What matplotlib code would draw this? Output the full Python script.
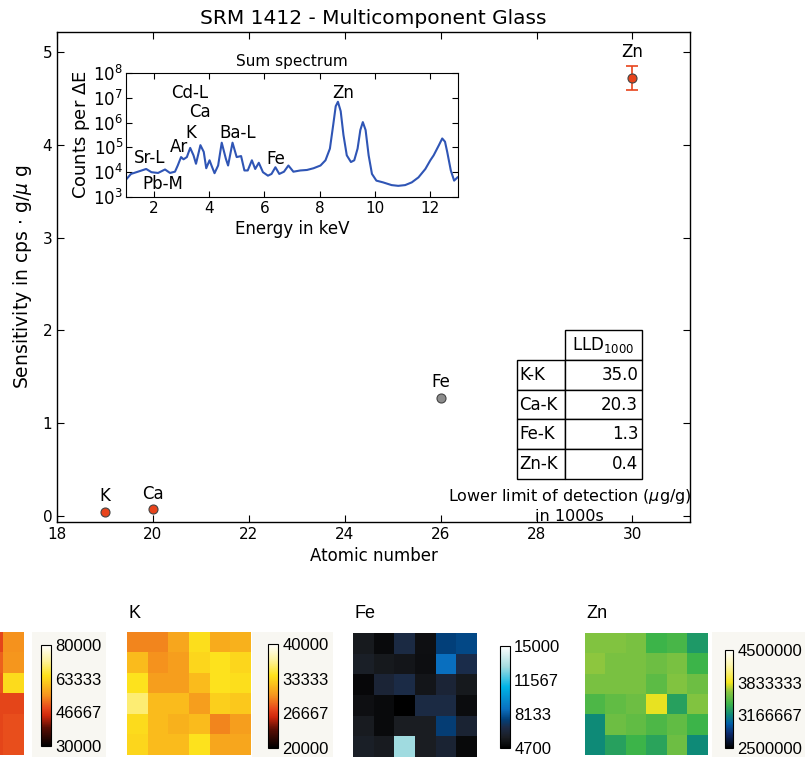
import numpy as np
import matplotlib
matplotlib.use("Agg")
import matplotlib.pyplot as plt
from matplotlib.colors import LinearSegmentedColormap
from matplotlib.patches import Rectangle
from matplotlib.ticker import LogLocator, NullLocator

# ---------------- data ----------------
elements = ["K", "Ca", "Fe", "Zn"]
atomic_number = [19, 20, 26, 30]
sensitivity = [0.04, 0.065, 1.27, 4.72]
sensitivity_err = [0.0, 0.0, 0.0, 0.13]
point_colors = ["#e8441c", "#e8441c", "#8c8c8c", "#e8441c"]

lld_lines = ["K-K", "Ca-K", "Fe-K", "Zn-K"]
lld_values = ["35.0", "20.3", "1.3", "0.4"]

spec_energy = [1.04, 1.18, 1.43, 1.73, 1.92, 2.16, 2.41, 2.59, 2.77, 2.87, 2.99,
               3.08, 3.20, 3.32, 3.44, 3.53, 3.69, 3.81, 3.90, 4.02, 4.09, 4.20,
               4.33, 4.46, 4.61, 4.69, 4.85, 5.00, 5.16, 5.28, 5.40, 5.55, 5.67,
               5.80, 5.95, 6.13, 6.26, 6.40, 6.54, 6.71, 6.87, 7.05, 7.30, 7.54,
               7.78, 8.03, 8.21, 8.37, 8.49, 8.58, 8.66, 8.76, 8.86, 8.98, 9.13,
               9.25, 9.37, 9.47, 9.56, 9.66, 9.77, 9.89, 10.05, 10.29, 10.60,
               10.84, 11.09, 11.33, 11.57, 11.82, 12.00, 12.12, 12.31, 12.43,
               12.53, 12.61, 12.74, 12.86, 12.98]
spec_log_counts = [3.75, 3.93, 4.02, 4.13, 4.00, 3.97, 4.11, 3.97, 4.02, 4.27, 4.61,
                   4.52, 4.61, 4.98, 4.68, 4.34, 5.09, 4.82, 4.16, 4.48, 4.27, 3.96,
                   4.27, 5.19, 4.54, 4.27, 5.19, 4.61, 4.65, 4.07, 4.07, 4.48, 4.13,
                   4.38, 4.00, 3.86, 3.93, 4.20, 3.93, 4.02, 4.27, 4.02, 4.07, 4.09,
                   4.16, 4.27, 4.48, 4.95, 5.91, 6.66, 6.84, 6.46, 5.50, 4.68, 4.41,
                   4.48, 4.95, 5.70, 6.02, 5.70, 4.68, 3.93, 3.66, 3.59, 3.48,
                   3.45, 3.48, 3.59, 3.79, 4.13, 4.48, 4.68, 5.09, 5.36,
                   5.23, 4.82, 4.07, 3.66, 3.79]

peak_labels = ["Sr-L", "Pb-M", "Ar", "K", "Cd-L", "Ca", "Ba-L", "Fe", "Zn"]
peak_label_energy = [1.86, 2.34, 2.92, 3.36, 3.32, 3.69, 5.03, 6.42, 8.85]
peak_label_log = [4.57, 3.52, 5.02, 5.57, 7.21, 6.42, 5.57, 4.54, 7.21]

map_titles = ["", "K", "Fe", "Zn"]
map_ranges = [(30000, 80000), (20000, 40000), (4700, 15000), (2500000, 4500000)]
map_ticklabels = [["30000", "46667", "63333", "80000"],
                  ["20000", "26667", "33333", "40000"],
                  ["4700", "8133", "11567", "15000"],
                  ["2500000", "3166667", "3833333", "4500000"]]

map_first = [[48500, 55000],
             [51000, 55500],
             [50000, 64000],
             [48500, 48500],
             [48500, 49500],
             [48500, 49500]]
map_K = [[29600, 29600, 31000, 33800, 31200, 31500],
         [32000, 30000, 30600, 33400, 34000, 33400],
         [34000, 30600, 30600, 32000, 34000, 33800],
         [36000, 32000, 32000, 30600, 33000, 32600],
         [33600, 32000, 31500, 32000, 29600, 30600],
         [33400, 32000, 32000, 34000, 31000, 31000]]
map_Fe = [[5630, 5100, 6650, 5300, 7580, 7790],
          [5900, 5600, 5500, 5250, 8610, 6800],
          [5000, 6300, 6750, 5500, 6300, 5600],
          [5300, 5100, 4700, 6650, 6650, 5150],
          [5700, 5100, 5750, 5750, 7500, 6200],
          [5900, 5700, 12900, 5750, 6200, 5050]]
map_Zn = [[3620000, 3620000, 3600000, 3400000, 3440000, 3260000],
          [3660000, 3600000, 3600000, 3560000, 3600000, 3400000],
          [3600000, 3600000, 3600000, 3500000, 3620000, 3560000],
          [3460000, 3520000, 3560000, 3820000, 3300000, 3620000],
          [3180000, 3560000, 3520000, 3460000, 3520000, 3400000],
          [3180000, 3300000, 3400000, 3320000, 3560000, 3180000]]

# ---------------- style ----------------
W, H = 805, 757
fig = plt.figure(figsize=(W / 100, H / 100), dpi=100)
plt.rcParams['font.family'] = ['DejaVu Sans']


def fbox(x0, y0, x1, y1):
    return [x0 / W, 1 - y1 / H, (x1 - x0) / W, (y1 - y0) / H]


hot_cmap = LinearSegmentedColormap.from_list("hotish", [
    (0.0, "#000000"), (0.18, "#5a0e04"), (0.3, "#d0280c"), (0.38, "#e84a1c"),
    (0.5, "#f5921e"), (0.62, "#fbc41c"), (0.7, "#fde21c"), (0.85, "#fdf3a0"),
    (1.0, "#ffffff")])
fe_cmap = LinearSegmentedColormap.from_list("fe", [
    (0.0, "#000000"), (0.1, "#1a1d22"), (0.2, "#1c2c48"), (0.28, "#02407a"),
    (0.38, "#0a6fbf"), (0.6, "#00b4e6"), (0.8, "#a4dce0"), (1.0, "#ffffff")])
zn_cmap = LinearSegmentedColormap.from_list("zn", [
    (0.0, "#000000"), (0.15, "#0b2a6e"), (0.25, "#005ea8"), (0.34, "#0e8a78"),
    (0.45, "#3cb44a"), (0.58, "#8dc63f"), (0.67, "#f5e61d"), (0.85, "#fdf6b0"),
    (1.0, "#ffffff")])

# faint backgrounds behind some colorbars (drawn first)
bg_boxes = [(32, 632, 106, 757), (252, 632, 333, 757), None, (712, 632, 805, 757)]
for bg in bg_boxes:
    if bg is None:
        continue
    b = fbox(*bg)
    fig.patches.append(Rectangle((b[0], b[1]), b[2], b[3], transform=fig.transFigure,
                                 facecolor="#f8f7f2", edgecolor='none', zorder=-10))

# ---------------- main axes ----------------
ax = fig.add_axes(fbox(57, 32, 690, 522))
for x, y, e, c, lab in zip(atomic_number, sensitivity, sensitivity_err, point_colors, elements):
    if e > 0:
        ax.errorbar([x], [y], yerr=[e], fmt='none', ecolor=c, elinewidth=1.2,
                    capsize=4, capthick=1.2, zorder=2)
    ax.plot([x], [y], 'o', ms=6.5, color=c, mec="#444444", mew=0.8, zorder=3)
    off = 5 + (e * 92.8 * 0.6 if e > 0 else 0)
    ax.annotate(lab, (x, y), xytext=(0, off), textcoords='offset points',
                ha='center', va='bottom', fontsize=12)

ax.set_xlim(18, 31.2)
ax.set_ylim(-0.07, 5.22)
ax.set_xticks([18, 20, 22, 24, 26, 28, 30])
ax.set_yticks([0, 1, 2, 3, 4, 5])
ax.tick_params(direction='in', top=True, right=True, length=5, width=0.8,
               labelsize=11)
for s in ax.spines.values():
    s.set_linewidth(1.0)
ax.set_title("SRM 1412 - Multicomponent Glass", fontsize=14.5, pad=6)
ax.set_xlabel("Atomic number", fontsize=12)
ax.set_ylabel(r"Sensitivity in cps $\cdot$ g/$\mu$ g", fontsize=13.5, labelpad=6)

# table
cell_text = [["", r"LLD$_{1000}$"]] + [[l, v] for l, v in zip(lld_lines, lld_values)]
x0 = (517 - 57) / 633
x1 = (642 - 57) / 633
y0 = (522 - 479) / 490
y1 = (522 - 330) / 490
tab = ax.table(cellText=cell_text, colWidths=[48, 77],
               bbox=[x0, y0, x1 - x0, y1 - y0], cellLoc='left', zorder=5)
tab.auto_set_font_size(False)
tab.set_fontsize(12)
for (r, c), cell in tab.get_celld().items():
    cell.set_linewidth(1.0)
    cell.PAD = 0.05
    if r == 0 and c == 0:
        cell.visible_edges = 'open'
    if c == 1:
        cell._loc = 'center' if r == 0 else 'right'
        cell.get_text().set_ha(cell._loc)
ax.text(0.81, 0.034, "Lower limit of detection ($\\mu$g/g)\nin 1000s",
        transform=ax.transAxes, ha='center', va='center', fontsize=11.5,
        linespacing=1.25)

# ---------------- inset spectrum ----------------
ins = fig.add_axes(fbox(126, 73, 458, 197))
ins.plot(spec_energy, 10 ** np.array(spec_log_counts), color="#2f55b5", lw=1.5)
ins.set_yscale('log')
ins.set_xlim(1, 13)
ins.set_ylim(1e3, 1e8)
ins.set_xticks([2, 4, 6, 8, 10, 12])
ins.yaxis.set_major_locator(LogLocator(base=10, numticks=10))
ins.yaxis.set_minor_locator(NullLocator())
ins.tick_params(direction='in', top=True, right=True, length=4, labelsize=11, pad=3)
ins.tick_params(axis='y', labelsize=12, pad=2)
ins.set_title("Sum spectrum", fontsize=11, pad=5)
ins.set_xlabel("Energy in keV", fontsize=12, labelpad=3)
ins.set_ylabel(r"Counts per $\Delta$E", fontsize=13, labelpad=1)
for lab, xe, yl in zip(peak_labels, peak_label_energy, peak_label_log):
    ins.text(xe, 10 ** yl, lab, ha='center', va='center', fontsize=12)

# ---------------- bottom maps ----------------
hm_boxes = [(-18, 632, 23, 755), (127, 632, 250, 755), (353, 633, 477, 757), (585, 633, 708, 755)]
cb_boxes = [(41, 645, 51, 746), (268, 644, 278, 748), (500, 646, 510, 748), (725, 650, 733, 748)]
maps = [map_first, map_K, map_Fe, map_Zn]
cmaps = [hot_cmap, hot_cmap, fe_cmap, zn_cmap]

for i in range(4):
    hax = fig.add_axes(fbox(*hm_boxes[i]))
    vmin, vmax = map_ranges[i]
    im = hax.imshow(np.array(maps[i]), cmap=cmaps[i], vmin=vmin, vmax=vmax,
                    aspect='auto', interpolation='nearest')
    hax.set_axis_off()
    if map_titles[i]:
        fig.text(hm_boxes[i][0] / W + 0.002, 1 - 613 / H, map_titles[i],
                 ha='left', va='center', fontsize=13, family='Liberation Sans')
    cax = fig.add_axes(fbox(*cb_boxes[i]))
    ticks = np.linspace(vmin, vmax, 4)
    cb = fig.colorbar(im, cax=cax, ticks=ticks)
    cb.outline.set_linewidth(0.8)
    cax.set_yticklabels(map_ticklabels[i])
    cax.tick_params(length=0, pad=3, labelsize=12)
    for t in cax.get_yticklabels():
        t.set_family('Liberation Sans')

fig.savefig("out.png", dpi=100)
